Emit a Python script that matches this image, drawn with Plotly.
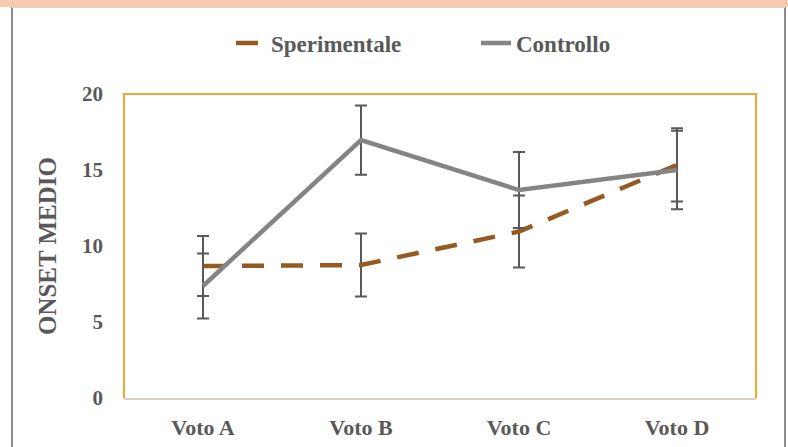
import plotly.graph_objects as go

categories = ["Voto A", "Voto B", "Voto C", "Voto D"]
sperimentale = [8.68, 8.75, 10.95, 15.33]
sperimentale_err = [1.97, 2.08, 2.37, 2.41]
controllo = [7.37, 16.97, 13.68, 15.0]
controllo_err = [2.14, 2.28, 2.5, 2.59]
y_ticks = [0, 5, 10, 15, 20]

W, H = 788, 447
ML, MR, MT, MB = 124, 32, 94, 49
pw, ph = W - ML - MR, H - MT - MB

def px_x(p):
    return (p - ML) / pw

def px_y(p):
    return (H - MB - p) / ph

FONT = "Liberation Serif, Times New Roman, DejaVu Serif, serif"
TXT = "#595959"
err_style = dict(type="data", visible=True, color="#595959", thickness=2, width=6)

fig = go.Figure()
fig.add_trace(go.Scatter(
    x=categories, y=sperimentale, name="Sperimentale", mode="lines",
    line=dict(color="#955A21", width=4.5, dash="22px,17px"),
    error_y=dict(array=sperimentale_err, **err_style),
))
fig.add_trace(go.Scatter(
    x=categories, y=controllo, name="Controllo", mode="lines",
    line=dict(color="#848484", width=4.5),
    error_y=dict(array=controllo_err, **err_style),
))

shapes = [
    dict(type="rect", xref="paper", yref="paper", x0=px_x(0), x1=px_x(W), y0=px_y(7), y1=px_y(0),
         fillcolor="#F8CBAD", line=dict(width=0), layer="below"),
    dict(type="line", xref="paper", yref="paper", x0=px_x(12), x1=px_x(12), y0=px_y(H), y1=px_y(7),
         line=dict(color="#8C8C8C", width=2)),
    dict(type="line", xref="paper", yref="paper", x0=px_x(785), x1=px_x(785), y0=px_y(H), y1=px_y(7),
         line=dict(color="#8C8C8C", width=2)),
    dict(type="line", xref="paper", yref="paper", x0=px_x(12), x1=px_x(785), y0=px_y(7.5), y1=px_y(7.5),
         line=dict(color="#D9D9D9", width=1)),
    dict(type="path", xref="x domain", yref="y domain", path="M0,0 L0,1 L1,1 L1,0",
         line=dict(color="#F4A533", width=2), layer="below"),
]

fig.update_layout(
    width=W, height=H,
    margin=dict(l=ML, r=MR, t=MT, b=MB, autoexpand=False),
    paper_bgcolor="white", plot_bgcolor="white",
    font=dict(family=FONT, color=TXT, size=20, weight="bold"),
    showlegend=True,
    legend=dict(orientation="h", x=px_x(231), xanchor="left", y=px_y(43), yanchor="middle",
                font=dict(family=FONT, size=23, color=TXT, weight="bold"),
                entrywidth=200, bgcolor="rgba(0,0,0,0)"),
    shapes=shapes,
    xaxis=dict(type="category", range=[-0.5, 3.5], showgrid=False, zeroline=False,
               showline=True, linecolor="#D9D3C7", linewidth=2, automargin=False,
               ticks="", ticklabelstandoff=9,
               tickfont=dict(family=FONT, size=22, color=TXT, weight="bold")),
    yaxis=dict(range=[0, 20], tickvals=y_ticks, showgrid=False, zeroline=False,
               showline=False, ticks="", ticklabelstandoff=20, automargin=False,
               tickfont=dict(family=FONT, size=21, color=TXT, weight="bold"),
               title=dict(text="ONSET MEDIO", standoff=18,
                          font=dict(family=FONT, size=25, color=TXT, weight="bold"))),
)

fig.write_html("out.html", config={"displayModeBar": False},
               post_script="document.body.style.margin='0';document.body.style.padding='0';")
